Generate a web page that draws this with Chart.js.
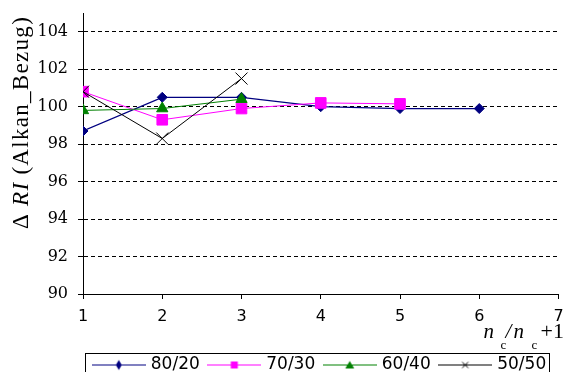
<!DOCTYPE html>
<html>
<head>
<meta charset="utf-8">
<script src="https://cdn.jsdelivr.net/npm/chart.js@4"></script>
<style>
  html, body { margin: 0; padding: 0; background: #fff; overflow: hidden; }
  #wrap { position: relative; width: 568px; height: 383px; }
</style>
</head>
<body>
<div id="wrap"><canvas id="c" width="568" height="383"></canvas></div>
<script>
// Ratio n_c / n_c+1 on the x axis
const xValues = [1, 2, 3, 4, 5, 6];
const seriesNames = ['80/20', '70/30', '60/40', '50/50'];
// Delta RI (Alkan_Bezug) per mixture
const s8020 = [98.7, 100.5, 100.5, 100.0, 99.9, 99.9];
const s7030 = [100.8, 99.3, 99.9, 100.2, 100.15];
const s6040 = [99.8, 99.9, 100.4];
const s5050 = [100.8, 98.3, 101.5];
// axis ranges
const yMin = 90, yMax = 105, yStep = 2;
const xMin = 1, xMax = 7, xStep = 1;

const colors = ['#000080', '#ff00ff', '#008000', '#000000'];
const styles = ['rectRot', 'rect', 'triangle', 'crossRot'];
const radii = [5, 7.5, 6.5, 8.5];

function toPoints(values) {
  return values.map((v, i) => ({ x: xValues[i], y: v }));
}

// small line-with-marker swatches for the legend
function makeIcon(color, kind) {
  const c = document.createElement('canvas');
  c.width = 54; c.height = 14;
  const g = c.getContext('2d');
  const cx = 27, cy = 7.5;
  g.strokeStyle = color; g.fillStyle = color; g.lineWidth = 1;
  g.beginPath(); g.moveTo(0, cy); g.lineTo(54, cy); g.stroke();
  g.beginPath();
  if (kind === 'rectRot') {
    g.moveTo(cx, cy - 5); g.lineTo(cx + 3, cy); g.lineTo(cx, cy + 5); g.lineTo(cx - 3, cy); g.closePath(); g.fill();
  } else if (kind === 'rect') {
    g.fillRect(cx - 3.5, cy - 3.5, 7, 7);
  } else if (kind === 'triangle') {
    g.moveTo(cx, cy - 4); g.lineTo(cx + 4.5, cy + 3.5); g.lineTo(cx - 4.5, cy + 3.5); g.closePath(); g.fill();
  } else {
    g.moveTo(cx - 3, cy - 3); g.lineTo(cx + 3, cy + 3);
    g.moveTo(cx - 3, cy + 3); g.lineTo(cx + 3, cy - 3); g.stroke();
  }
  return c;
}
const icons = colors.map((c, i) => makeIcon(c, styles[i]));

const seriesValues = [s8020, s7030, s6040, s5050];
const datasets = seriesValues.map((vals, i) => ({
  label: seriesNames[i],
  data: toPoints(vals),
  borderColor: colors[i],
  backgroundColor: colors[i],
  borderWidth: i === 0 ? 1.3 : 1,
  pointStyle: styles[i],
  pointRadius: radii[i],
  pointHoverRadius: radii[i],
  pointBorderWidth: 1,
  pointBackgroundColor: colors[i],
  pointBorderColor: colors[i],
  tension: 0,
  fill: false,
  order: 4 - i
}));

// axis titles with italic / subscript parts, plus the frame round the legend
const decorations = {
  id: 'decorations',
  afterDraw(chart) {
    const ctx = chart.ctx;
    ctx.save();
    ctx.fillStyle = '#000';

    // y title, rotated
    const normal = '23px "Liberation Serif"';
    const italic = 'italic 23px "Liberation Serif"';
    const parts = [['\u0394 ', normal], ['RI', italic], [' (Alkan_Bezug)', normal]];
    ctx.letterSpacing = '1.3px';
    let total = 0;
    parts.forEach(p => { ctx.font = p[1]; total += ctx.measureText(p[0]).width; });
    ctx.save();
    ctx.translate(28, 122.5);
    ctx.rotate(-Math.PI / 2);
    ctx.textBaseline = 'alphabetic';
    ctx.textAlign = 'left';
    let u = -total / 2;
    parts.forEach(p => { ctx.font = p[1]; ctx.fillText(p[0], u, 0); u += ctx.measureText(p[0]).width; });
    ctx.restore();
    ctx.letterSpacing = '0px';

    // x title: n_c / n_c+1
    const right = chart.chartArea.right;
    const base = 338;
    ctx.textBaseline = 'alphabetic';
    ctx.textAlign = 'left';
    const it = 'italic 21px "Liberation Serif"';
    const rg = '22px "Liberation Serif"';
    const sub = '13px "Liberation Serif"';
    ctx.font = it; ctx.fillText('n', right - 75, base);
    ctx.font = sub; ctx.fillText('c', right - 58, base + 11);
    ctx.font = it; ctx.fillText('/', right - 53, base);
    ctx.font = it; ctx.fillText('n', right - 45, base);
    ctx.font = sub; ctx.fillText('c', right - 27, base + 11);
    ctx.font = rg; ctx.fillText('+1', right - 18, base);

    // legend frame
    const hb = chart.legend.legendHitBoxes;
    if (hb && hb.length) {
      const l = Math.min(...hb.map(h => h.left)) - 10;
      const r = Math.max(...hb.map(h => h.left + h.width)) + 3;
      ctx.strokeStyle = '#000';
      ctx.lineWidth = 1;
      ctx.strokeRect(Math.round(l) + 0.5, 353.5, Math.round(r - l), 40);
    }
    ctx.restore();
  }
};

new Chart(document.getElementById('c'), {
  type: 'line',
  data: { datasets },
  options: {
    responsive: false,
    animation: false,
    devicePixelRatio: 1,
    layout: { padding: { top: 13, right: 3, left: 0, bottom: 0 } },
    plugins: {
      tooltip: { enabled: false },
      legend: {
        position: 'bottom',
        fullSize: false,
        labels: {
          usePointStyle: true,
          pointStyleWidth: 47,
          padding: 11,
          color: '#000',
          font: { family: 'DejaVu Sans', size: 17 },
          generateLabels(chart) {
            return chart.data.datasets.map((ds, i) => ({
              text: ds.label,
              pointStyle: icons[i],
              fillStyle: colors[i],
              strokeStyle: colors[i],
              lineWidth: 0,
              hidden: false,
              datasetIndex: i
            }));
          }
        }
      }
    },
    scales: {
      x: {
        type: 'linear',
        min: xMin, max: xMax,
        ticks: { stepSize: xStep, color: '#000', padding: 8, font: { family: 'DejaVu Sans', size: 16 } },
        grid: { drawOnChartArea: false, color: '#000', tickLength: 5, tickColor: '#000' },
        border: { color: '#000', width: 1 },
        afterFit(scale) { scale.height = 51; scale.paddingLeft = 0; scale.paddingRight = 0; }
      },
      y: {
        min: yMin, max: yMax,
        ticks: { stepSize: yStep, includeBounds: false, color: '#000', padding: 10, font: { family: 'DejaVu Serif', size: 16 } },
        grid: { color: '#000', lineWidth: 1, tickLength: 5, tickColor: '#000', tickBorderDash: [] },
        border: { color: '#000', width: 1, dash: [4, 3] },
        afterFit(scale) { scale.width = 83; scale.paddingTop = 0; scale.paddingBottom = 0; }
      }
    }
  },
  plugins: [decorations]
});
</script>
</body>
</html>
